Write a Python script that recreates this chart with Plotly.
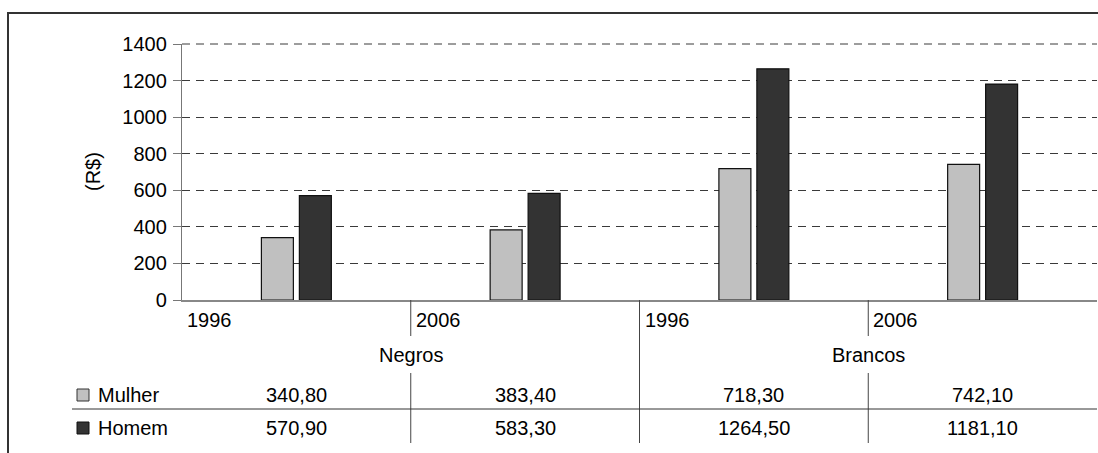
import plotly.graph_objects as go

# Rendimento médio (R$) por cor e sexo
anos = ["1996", "2006", "1996", "2006"]
grupos = ["Negros", "Brancos"]
mulher = [340.8, 383.4, 718.3, 742.1]
homem = [570.9, 583.3, 1264.5, 1181.1]
series_nomes = ["Mulher", "Homem"]
y_ticks = [0, 200, 400, 600, 800, 1000, 1200, 1400]

COR_CLARA = "#c0c0c0"
COR_ESCURA = "#333333"
FONTE = "Liberation Sans, Arial, sans-serif"
TAM = 20
GRID = dict(color="#3a3a3a", width=1, dash="8px,6px")

W, H = 1098, 453
ML, MR, MT, MB = 182, 1, 44, 153
PW = W - ML - MR
PH = H - MT - MB

n = len(anos)
xpos = list(range(n))


def px_x(p):
    return (p - ML) / PW


def px_y(p):
    return (H - MB - p) / PH


def cat_edge(i):
    # paper x of the left edge of category slot i
    return i / n


def cat_center(i):
    return (i + 0.5) / n


def fmt(v):
    return f"{v:.2f}".replace(".", ",")


fig = go.Figure()
fig.add_trace(go.Bar(x=xpos, y=mulher, name=series_nomes[0],
                     marker=dict(color=COR_CLARA, line=dict(color="#111", width=1.2))))
fig.add_trace(go.Bar(x=xpos, y=homem, name=series_nomes[1],
                     marker=dict(color=COR_ESCURA, line=dict(color="#111", width=1.2))))

shapes = []
annotations = []

# outer frame of the chart area
shapes.append(dict(type="rect", xref="paper", yref="paper",
                   x0=px_x(8), x1=px_x(W + 20), y0=px_y(H + 20), y1=px_y(13),
                   line=dict(color="#333", width=2), fillcolor="rgba(0,0,0,0)", layer="below"))

# gridline at the top of the value range (plot edge)
shapes.append(dict(type="line", xref="paper", yref="paper", x0=0, x1=1, y0=1, y1=1,
                   line=GRID, layer="below"))

# year labels under each category
for i, a in enumerate(anos):
    annotations.append(dict(xref="paper", yref="paper", x=cat_edge(i) + px_x(ML + 3), y=px_y(320),
                            text=a, showarrow=False, xanchor="left", yanchor="middle"))

# group labels and separators of the data table
y_axis = px_y(300)
y_gap_top = px_y(336)
y_gap_bot = px_y(373)
y_bottom = px_y(443)
for g, nome in enumerate(grupos):
    annotations.append(dict(xref="paper", yref="paper", x=cat_edge(2 * g + 1), y=px_y(355),
                            text=nome, showarrow=False, xanchor="center", yanchor="middle"))
    xe = cat_edge(2 * g + 1)
    shapes.append(dict(type="line", xref="paper", yref="paper", x0=xe, x1=xe,
                       y0=y_axis, y1=y_gap_top, line=dict(color="#444", width=1)))
    shapes.append(dict(type="line", xref="paper", yref="paper", x0=xe, x1=xe,
                       y0=y_gap_bot, y1=y_bottom, line=dict(color="#444", width=1)))
for g in range(1, len(grupos)):
    xe = cat_edge(2 * g)
    shapes.append(dict(type="line", xref="paper", yref="paper", x0=xe, x1=xe,
                       y0=y_axis, y1=y_bottom, line=dict(color="#444", width=1)))

# horizontal rule between the two table rows
shapes.append(dict(type="line", xref="paper", yref="paper", x0=px_x(72), x1=1.0,
                   y0=px_y(409), y1=px_y(409), line=dict(color="#333", width=1)))

# table rows: legend key, series name and values
linhas = [(series_nomes[0], mulher, COR_CLARA, "#333", 395),
          (series_nomes[1], homem, COR_ESCURA, "#111", 428)]
for nome, vals, cor, borda, ypx in linhas:
    shapes.append(dict(type="rect", xref="paper", yref="paper",
                       x0=px_x(77), x1=px_x(89), y0=px_y(ypx + 6), y1=px_y(ypx - 6),
                       fillcolor=cor, line=dict(color=borda, width=1)))
    annotations.append(dict(xref="paper", yref="paper", x=px_x(96), y=px_y(ypx),
                            text=nome, showarrow=False, xanchor="left", yanchor="middle"))
    for i, v in enumerate(vals):
        annotations.append(dict(xref="paper", yref="paper", x=cat_center(i), y=px_y(ypx),
                                text=fmt(v), showarrow=False, xanchor="center", yanchor="middle"))

# rotated axis title
annotations.append(dict(xref="paper", yref="paper", x=px_x(93), y=0.5, text="(R$)",
                        textangle=-90, showarrow=False, xanchor="center", yanchor="middle"))

fig.update_layout(
    width=W, height=H,
    margin=dict(l=ML, r=MR, t=MT, b=MB, pad=0),
    paper_bgcolor="white", plot_bgcolor="white",
    font=dict(family=FONTE, size=TAM, color="#000"),
    barmode="group", bargap=0.668, bargroupgap=0.158,
    showlegend=False,
    shapes=shapes, annotations=annotations,
    xaxis=dict(range=[-0.5, n - 0.5], showticklabels=False, ticks="",
               showgrid=False, zeroline=False, showline=True,
               linecolor="#888", linewidth=2, fixedrange=True),
    yaxis=dict(range=[0, 1400], tickvals=y_ticks, ticks="outside", ticklen=8,
               tickcolor="#777", tickwidth=1, ticklabelstandoff=2,
               showgrid=True, gridcolor=GRID["color"], gridwidth=GRID["width"],
               griddash=GRID["dash"],
               zeroline=False, showline=True, linecolor="#777", linewidth=1.3,
               tickfont=dict(size=TAM), fixedrange=True),
)

fig.write_html("out.html")
